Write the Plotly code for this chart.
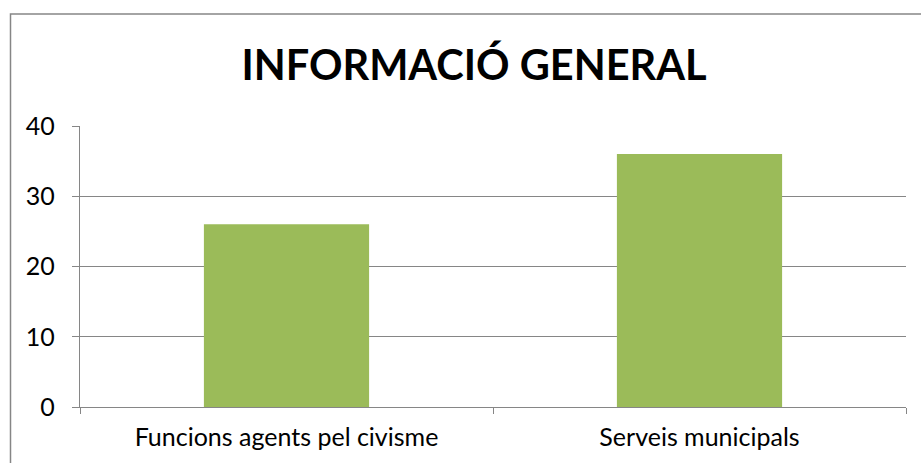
import plotly.graph_objects as go

categories = ["Funcions agents pel civisme", "Serveis municipals"]
values = [26, 36]
y_ticks = [0, 10, 20, 30, 40]

W, H = 921, 463
L, R, T, B = 80, 15, 126, 56
pw, ph = W - L - R, H - T - B

def px_x(x):
    return (x - L) / pw

def px_y(y):
    return (H - B - y) / ph

FONT = "Lato, Open Sans, sans-serif"

fig = go.Figure(go.Bar(
    x=categories, y=values,
    marker=dict(color="#9BBB59", line=dict(width=0)),
    width=0.4,
))

grid = "#868686"
fig.update_layout(
    width=W, height=H,
    margin=dict(l=L, r=R, t=T, b=B),
    paper_bgcolor="white", plot_bgcolor="white",
    showlegend=False,
    font=dict(family=FONT, color="black", size=25),
    title=dict(text="<b>INFORMACIÓ GENERAL</b>", x=px_x(474), xref="paper", xanchor="center",
               y=1 - 65 / H, yanchor="middle",
               font=dict(family=FONT, size=41.5, color="black")),
    xaxis=dict(showgrid=False, showline=True, linecolor=grid, linewidth=1.3,
               ticks="outside", tickson="boundaries", ticklen=6, tickcolor=grid, tickwidth=1.3,
               ticklabelstandoff=8,
               tickfont=dict(size=25, color="black")),
    yaxis=dict(range=[0, 40], tickvals=y_ticks, showgrid=True, gridcolor=grid, gridwidth=1.3,
               showline=True, linecolor=grid, linewidth=1.3, zeroline=False,
               ticks="outside", ticklen=7, tickcolor=grid, tickwidth=1.3,
               ticklabelstandoff=12,
               tickfont=dict(size=25, color="black")),
    shapes=[dict(type="rect", xref="paper", yref="paper",
                 x0=px_x(10.5), x1=1.2, y0=-0.5, y1=px_y(14),
                 line=dict(color=grid, width=1.5), fillcolor="rgba(0,0,0,0)", layer="below")],
)

fig.write_html("out.html", config={"displayModeBar": False},
               post_script="document.body.style.margin='0';document.body.style.overflow='hidden';")
